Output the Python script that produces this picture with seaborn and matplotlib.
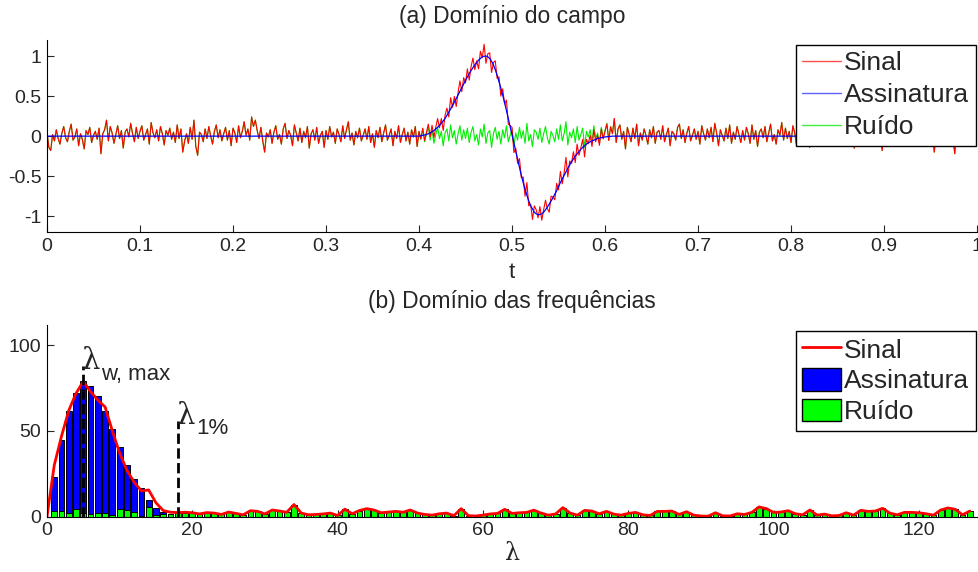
import numpy as np
import matplotlib
matplotlib.use("Agg")
import matplotlib.pyplot as plt
from matplotlib.lines import Line2D
from matplotlib.patches import Patch
import seaborn as sns

# ---- data (a): time domain, one sample every 0.002 ----
t = np.linspace(0, 1, 501)
# noise, in hundredths
ruido_cent = [
    5, -14, -18, 2, -6, 8, -3, -10, 4, 12, -2, -7, 6, 15, -5, -1, 9, -12, 3, -4, -16, 7, 2, 11, -8,
    1, 6, -4, 10, -22, 3, 8, 20, -6, 12, 4, -9, 2, 13, -3, 7, -15, 5, 9, -1, 16, 3, -7, 11, -3,
    6, 13, -5, 2, 9, -10, 17, 4, -2, 8, -6, 12, 3, -11, 7, 1, 10, -4, 5, -8, 14, -3, 9, -20, -6,
    3, -9, 11, -4, 20, -13, -24, 5, 2, -7, 9, -3, 12, 0, -10, 6, 14, -2, 8, -6, 3, 11, -5, 7, -12,
    10, 4, -8, 13, -2, 6, 18, 1, 9, -5, 24, 12, 20, 7, -3, 11, -6, -20, 4, -1, 8, -9, 5, 13, -4,
    2, -10, 9, 16, -3, 7, 1, -12, 14, 4, -6, 10, -8, 6, -2, 12, -15, 3, 8, -5, 11, -9, 1, 6, -14,
    7, -4, 12, -1, 5, -9, 9, 2, -7, 13, -3, 8, 18, -5, 4, -11, 6, -2, 10, -6, 1, 9, -4, 12, -8,
    3, -14, 7, -2, 11, -7, 4, 14, -5, 1, 9, -12, 6, -3, 13, -8, 2, 10, -6, 5, -10, 8, -1, 12, -13,
    6, -4, 9, -7, 3, 12, -5, 8, -9, 2, 11, -3, 6, -12, 4, 9, -6, 14, -2, 7, -10, 3, 13, -5, 8,
    -3, 10, -8, 5, 12, -6, 2, -11, 9, -1, 15, -9, 4, 7, -14, 3, 11, -4, 6, -10, 8, -2, 13, -7, 1,
    9, -12, 4, -5, 11, -3, 7, -9, 16, -6, 2, -13, 8, 5, -4, 10, -8, 3, 12, -2, -10, 6, 1, -7, 9,
    -4, 14, -6, 3, 18, -11, 5, -2, 9, -8, 12, -5, 2, 10, -14, 6, -1, 8, -7, 13, -3, 4, -9, 11, -2,
    7, 16, -5, 12, 3, 22, -8, 9, 14, -4, 6, -16, 11, 2, -7, 10, -3, 15, -12, 4, -5, 9, 1, -10, 8,
    -2, 12, -9, 5, 7, -4, 13, -7, 2, 10, -12, 6, 3, -5, 11, 15, -3, 8, -8, 4, 12, -6, 1, 9, -4,
    6, -10, 13, 3, -5, 9, -2, 11, -7, 16, 4, -12, 8, 1, -6, 10, -3, 14, -9, 5, -4, 12, 2, -8, 7,
    -5, 11, 3, -9, 14, -4, 7, -13, 5, 9, -2, 12, -7, 4, 15, -6, 2, -10, 8, 1, 17, -5, 10, -3, 6,
    -8, 13, 4, -12, 9, -3, 6, 11, -7, 2, -14, 8, 3, -5, 10, -2, 7, -11, 5, 12, -6, 1, 9, -4, 6,
    -10, 4, 11, -5, 8, -2, 13, -8, 3, -15, 6, 1, 9, -6, 12, -3, 5, -11, 7, 2, -4, 10, -8, 4, -18,
    9, -3, 6, 12, -7, 2, 10, -5, 8, -10, 4, 13, -2, 6, -9, 3, 11, -6, 1, 14, -4, 7, -12, 5, 9,
    -3, 8, -20, 4, 11, -6, 2, 9, -8, 5, 12, -4, 1, -22, 7, 10, -5, 3, 13, -9, 6, 15, -2, 10, 4,
    8,
]
# signature (wavelet) between t=0.400 and t=0.608, zero elsewhere
inicio_assinatura = 200  # index of t = 0.400
assinatura_janela = [
    0.00, 0.005, 0.01, 0.015, 0.02, 0.03, 0.04, 0.055, 0.07, 0.09,
    0.11, 0.135, 0.16, 0.19, 0.22, 0.26, 0.30, 0.34, 0.38, 0.425,
    0.47, 0.515, 0.56, 0.605, 0.65, 0.695, 0.74, 0.78, 0.82, 0.855,
    0.89, 0.92, 0.95, 0.97, 0.99, 0.997, 1.00, 0.99, 0.97, 0.935,
    0.89, 0.83, 0.76, 0.68, 0.60, 0.51, 0.42, 0.32, 0.22, 0.12,
    0.02, -0.085, -0.19, -0.29, -0.39, -0.49, -0.58, -0.66, -0.74, -0.81,
    -0.87, -0.91, -0.95, -0.97, -0.98, -0.98, -0.97, -0.95, -0.92, -0.885,
    -0.85, -0.81, -0.77, -0.725, -0.68, -0.63, -0.58, -0.535, -0.49, -0.445,
    -0.40, -0.36, -0.32, -0.285, -0.25, -0.22, -0.19, -0.165, -0.14, -0.12,
    -0.10, -0.085, -0.07, -0.06, -0.05, -0.04, -0.03, -0.025, -0.02, -0.015,
    -0.01, -0.008, -0.005, -0.003, 0.00,
]

# ---- data (b): frequency domain ----
lam = np.arange(128)
assin_espectro = [0, 23, 44.7, 61.5, 72.4, 79, 76, 70.3, 61.7, 51, 40.4, 30, 21.7,
                  16.5, 9.7, 4.9, 2.9, 1.2, 0.6, 0.3, 0.1]
ruido_espectro = [
    0, 3.0, 3.0, 2.3, 4.5, 2.3, 1.4, 2.0, 2.0, 1.0, 4.3, 3.9, 2.9, 0.3, 5.4, 1.0,
    1.4, 1.6, 2.2, 1.8, 2.4, 1.5, 2.3, 2.0, 1.2, 2.6, 1.8, 1.0, 3.4, 3.0, 1.5, 3.8,
    3.2, 2.5, 7.0, 2.0, 1.0, 1.2, 1.5, 2.0, 0.6, 4.3, 1.6, 3.5, 4.6, 3.8, 2.2, 2.6,
    3.0, 2.5, 3.8, 2.0, 1.2, 0.8, 1.6, 2.0, 0.5, 4.6, 0.5, 0.3, 0.8, 1.5, 1.8, 4.2,
    1.8, 2.2, 2.4, 3.7, 2.0, 0.8, 1.5, 5.2, 2.0, 0.8, 3.6, 3.2, 1.6, 3.0, 1.4, 0.8,
    1.8, 2.4, 1.0, 0.6, 3.0, 3.0, 3.2, 1.2, 2.8, 0.8, 0.3, 0.2, 2.2, 0.4, 0.3, 1.6,
    1.2, 2.4, 5.6, 4.6, 2.4, 2.6, 3.4, 1.6, 1.0, 3.8, 0.8, 1.4, 0.4, 0.6, 2.2, 0.8,
    3.6, 3.0, 3.2, 4.8, 2.0, 1.0, 2.4, 2.4, 2.2, 1.6, 0.8, 3.8, 5.0, 4.2, 1.0, 3.2,
]
# signal spectrum for the low band; above that it follows the noise
sinal_baixo = [0, 30, 47, 62, 72, 79, 73, 68, 64, 50, 37, 27, 20, 15, 15.5, 8,
               3.5, 2.5, 2.3, 2.5, 2.2]

lam_wmax, pico_wmax = 5, 88
lam_1pc, pico_1pc = 18, 56

# build full series
ruido = np.array(ruido_cent) / 100.0
assinatura = np.zeros(len(t))
assinatura[inicio_assinatura:inicio_assinatura + len(assinatura_janela)] = assinatura_janela
sinal = assinatura + ruido
sinal_espectro = np.concatenate([sinal_baixo, ruido_espectro[len(sinal_baixo):]])
lam_assin = lam[:len(assin_espectro)]

sns.set_style("ticks")
plt.rcParams["font.family"] = ["Liberation Sans", "DejaVu Sans"]
plt.rcParams["xtick.direction"] = "in"
plt.rcParams["ytick.direction"] = "in"

fig = plt.figure(figsize=(9.79, 5.72), dpi=100)
ax1 = fig.add_axes([0.048, 0.594, 0.950, 0.336])
ax2 = fig.add_axes([0.048, 0.097, 0.950, 0.335])

leg_kw = dict(loc="upper right", fontsize=19, frameon=True, fancybox=False,
              edgecolor="black", framealpha=1, handlelength=1.45, handletextpad=0.12,
              borderpad=0.25, borderaxespad=0)

# (a) time domain
sns.lineplot(x=t, y=ruido, color="#00ee00", lw=0.8, estimator=None, ax=ax1)
sns.lineplot(x=t, y=sinal, color="red", lw=0.8, estimator=None, ax=ax1)
sns.lineplot(x=t, y=assinatura, color="blue", lw=0.9, estimator=None, ax=ax1)
ax1.set_xlim(0, 1)
ax1.set_ylim(-1.2, 1.2)
ax1.set_xticks(np.arange(0, 1.01, 0.1))
ax1.set_xticklabels(["0", "0.1", "0.2", "0.3", "0.4", "0.5", "0.6", "0.7", "0.8", "0.9", "1"])
ax1.set_yticks([-1, -0.5, 0, 0.5, 1])
ax1.set_yticklabels(["-1", "-0.5", "0", "0.5", "1"])
ax1.set_xlabel("t", fontsize=16, labelpad=5)
ax1.set_title("(a) Domínio do campo", fontsize=16.5, pad=12)
h1 = [Line2D([], [], color="#ff5050", lw=1), Line2D([], [], color="#6060ff", lw=1),
      Line2D([], [], color="#40ee40", lw=1)]
ax1.legend(h1, ["Sinal", "Assinatura", "Ruído"], bbox_to_anchor=(0.9985, 0.975),
           labelspacing=0.3, **leg_kw)

# (b) frequency domain
sns.barplot(x=lam_assin, y=assin_espectro, native_scale=True, color="blue", saturation=1,
            edgecolor="black", linewidth=0.7, width=0.8, errorbar=None, ax=ax2)
sns.barplot(x=lam, y=ruido_espectro, native_scale=True, color="#00ff00", saturation=1,
            edgecolor="black", linewidth=0.7, width=0.8, errorbar=None, ax=ax2)
sns.lineplot(x=lam, y=sinal_espectro, color="red", lw=2, estimator=None, ax=ax2)
ax2.plot([lam_wmax, lam_wmax], [0, pico_wmax], "k--", lw=2)
ax2.plot([lam_1pc, lam_1pc], [0, pico_1pc], "k--", lw=2)
ax2.text(lam_wmax - 0.2, pico_wmax - 2, "λ", fontsize=21, family="DejaVu Serif")
ax2.text(lam_wmax + 2.5, pico_wmax - 8, "w, max", fontsize=16)
ax2.text(lam_1pc - 0.2, pico_1pc - 2, "λ", fontsize=21, family="DejaVu Serif")
ax2.text(lam_1pc + 2.5, pico_1pc - 8, "1%", fontsize=16)
ax2.set_xlim(0, 128)
ax2.set_ylim(0, 112)
ax2.set_xticks([0, 20, 40, 60, 80, 100, 120])
ax2.set_xticklabels(["0", "20", "40", "60", "80", "100", "120"])
ax2.set_yticks([0, 50, 100])
ax2.set_xlabel("λ", fontsize=17, family="DejaVu Serif", labelpad=2)
ax2.set_ylabel("")
ax2.set_title("(b) Domínio das frequências", fontsize=16.5, pad=12)
h2 = [Line2D([], [], color="red", lw=2),
      Patch(facecolor="blue", edgecolor="black"),
      Patch(facecolor="#00ff00", edgecolor="black")]
ax2.legend(h2, ["Sinal", "Assinatura", "Ruído"], bbox_to_anchor=(0.9985, 0.97),
           handleheight=0.95, labelspacing=0.2, **leg_kw)

for ax in (ax1, ax2):
    sns.despine(ax=ax)
    ax.tick_params(labelsize=14, length=5, width=0.8, pad=4)
    for s in ("left", "bottom"):
        ax.spines[s].set_color("black")
        ax.spines[s].set_linewidth(0.8)

fig.savefig("out.png", dpi=100)
